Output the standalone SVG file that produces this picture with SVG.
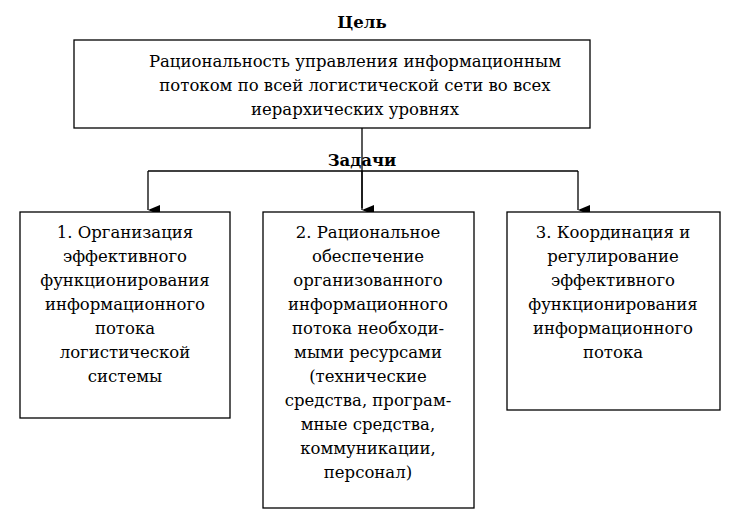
<svg xmlns="http://www.w3.org/2000/svg" width="744" height="520" viewBox="0 0 744 520">
<style>
.b{fill:#fff;stroke:#000;stroke-width:1.3}
text{font-family:"DejaVu Serif","Liberation Serif",serif;font-size:16.5px;text-anchor:middle;fill:#000}
.h{font-weight:bold}
.c{stroke:#000;stroke-width:1.3;fill:none}
</style>
<defs><marker id="a" markerWidth="10" markerHeight="12" refX="5" refY="12" orient="auto" markerUnits="userSpaceOnUse"><path d="M0,0L5,12L10,0z" fill="#000"/></marker></defs>
<text class="h" x="362" y="28">Цель</text>
<g id="goal"><rect class="b" x="74" y="40" width="516" height="88"/>
<text x="355" y="67">Рациональность управления информационным</text>
<text x="355" y="91">потоком по всей логистической сети во всех</text>
<text x="355" y="115">иерархических уровнях</text></g>
<text class="h" x="362" y="166">Задачи</text>
<g id="connectors">
<path class="c" d="M362,128V208"/>
<path class="c" d="M148,171H578"/>
<path class="c" d="M148,171V210" marker-end="url(#a)"/>
<path class="c" d="M362,171V210" marker-end="url(#a)"/>
<path class="c" d="M578,171V210" marker-end="url(#a)"/>
</g>
<g id="t1"><rect class="b" x="20" y="212" width="210" height="206"/>
<text x="125" y="238">1. Организация</text><text x="125" y="262">эффективного</text><text x="125" y="286">функционирования</text><text x="125" y="310">информационного</text><text x="125" y="334">потока</text><text x="125" y="358">логистической</text><text x="125" y="382">системы</text></g>
<g id="t2"><rect class="b" x="263" y="212" width="211" height="296"/>
<text x="368" y="238">2. Рациональное</text><text x="368" y="262">обеспечение</text><text x="368" y="286">организованного</text><text x="368" y="310">информационного</text><text x="368" y="334">потока необходи-</text><text x="368" y="358">мыми ресурсами</text><text x="368" y="382">(технические</text><text x="368" y="406">средства, програм-</text><text x="368" y="430">мные средства,</text><text x="368" y="454">коммуникации,</text><text x="368" y="478">персонал)</text></g>
<g id="t3"><rect class="b" x="507" y="212" width="213" height="198"/>
<text x="613" y="238">3. Координация и</text><text x="613" y="262">регулирование</text><text x="613" y="286">эффективного</text><text x="613" y="310">функционирования</text><text x="613" y="334">информационного</text><text x="613" y="358">потока</text></g>
</svg>
